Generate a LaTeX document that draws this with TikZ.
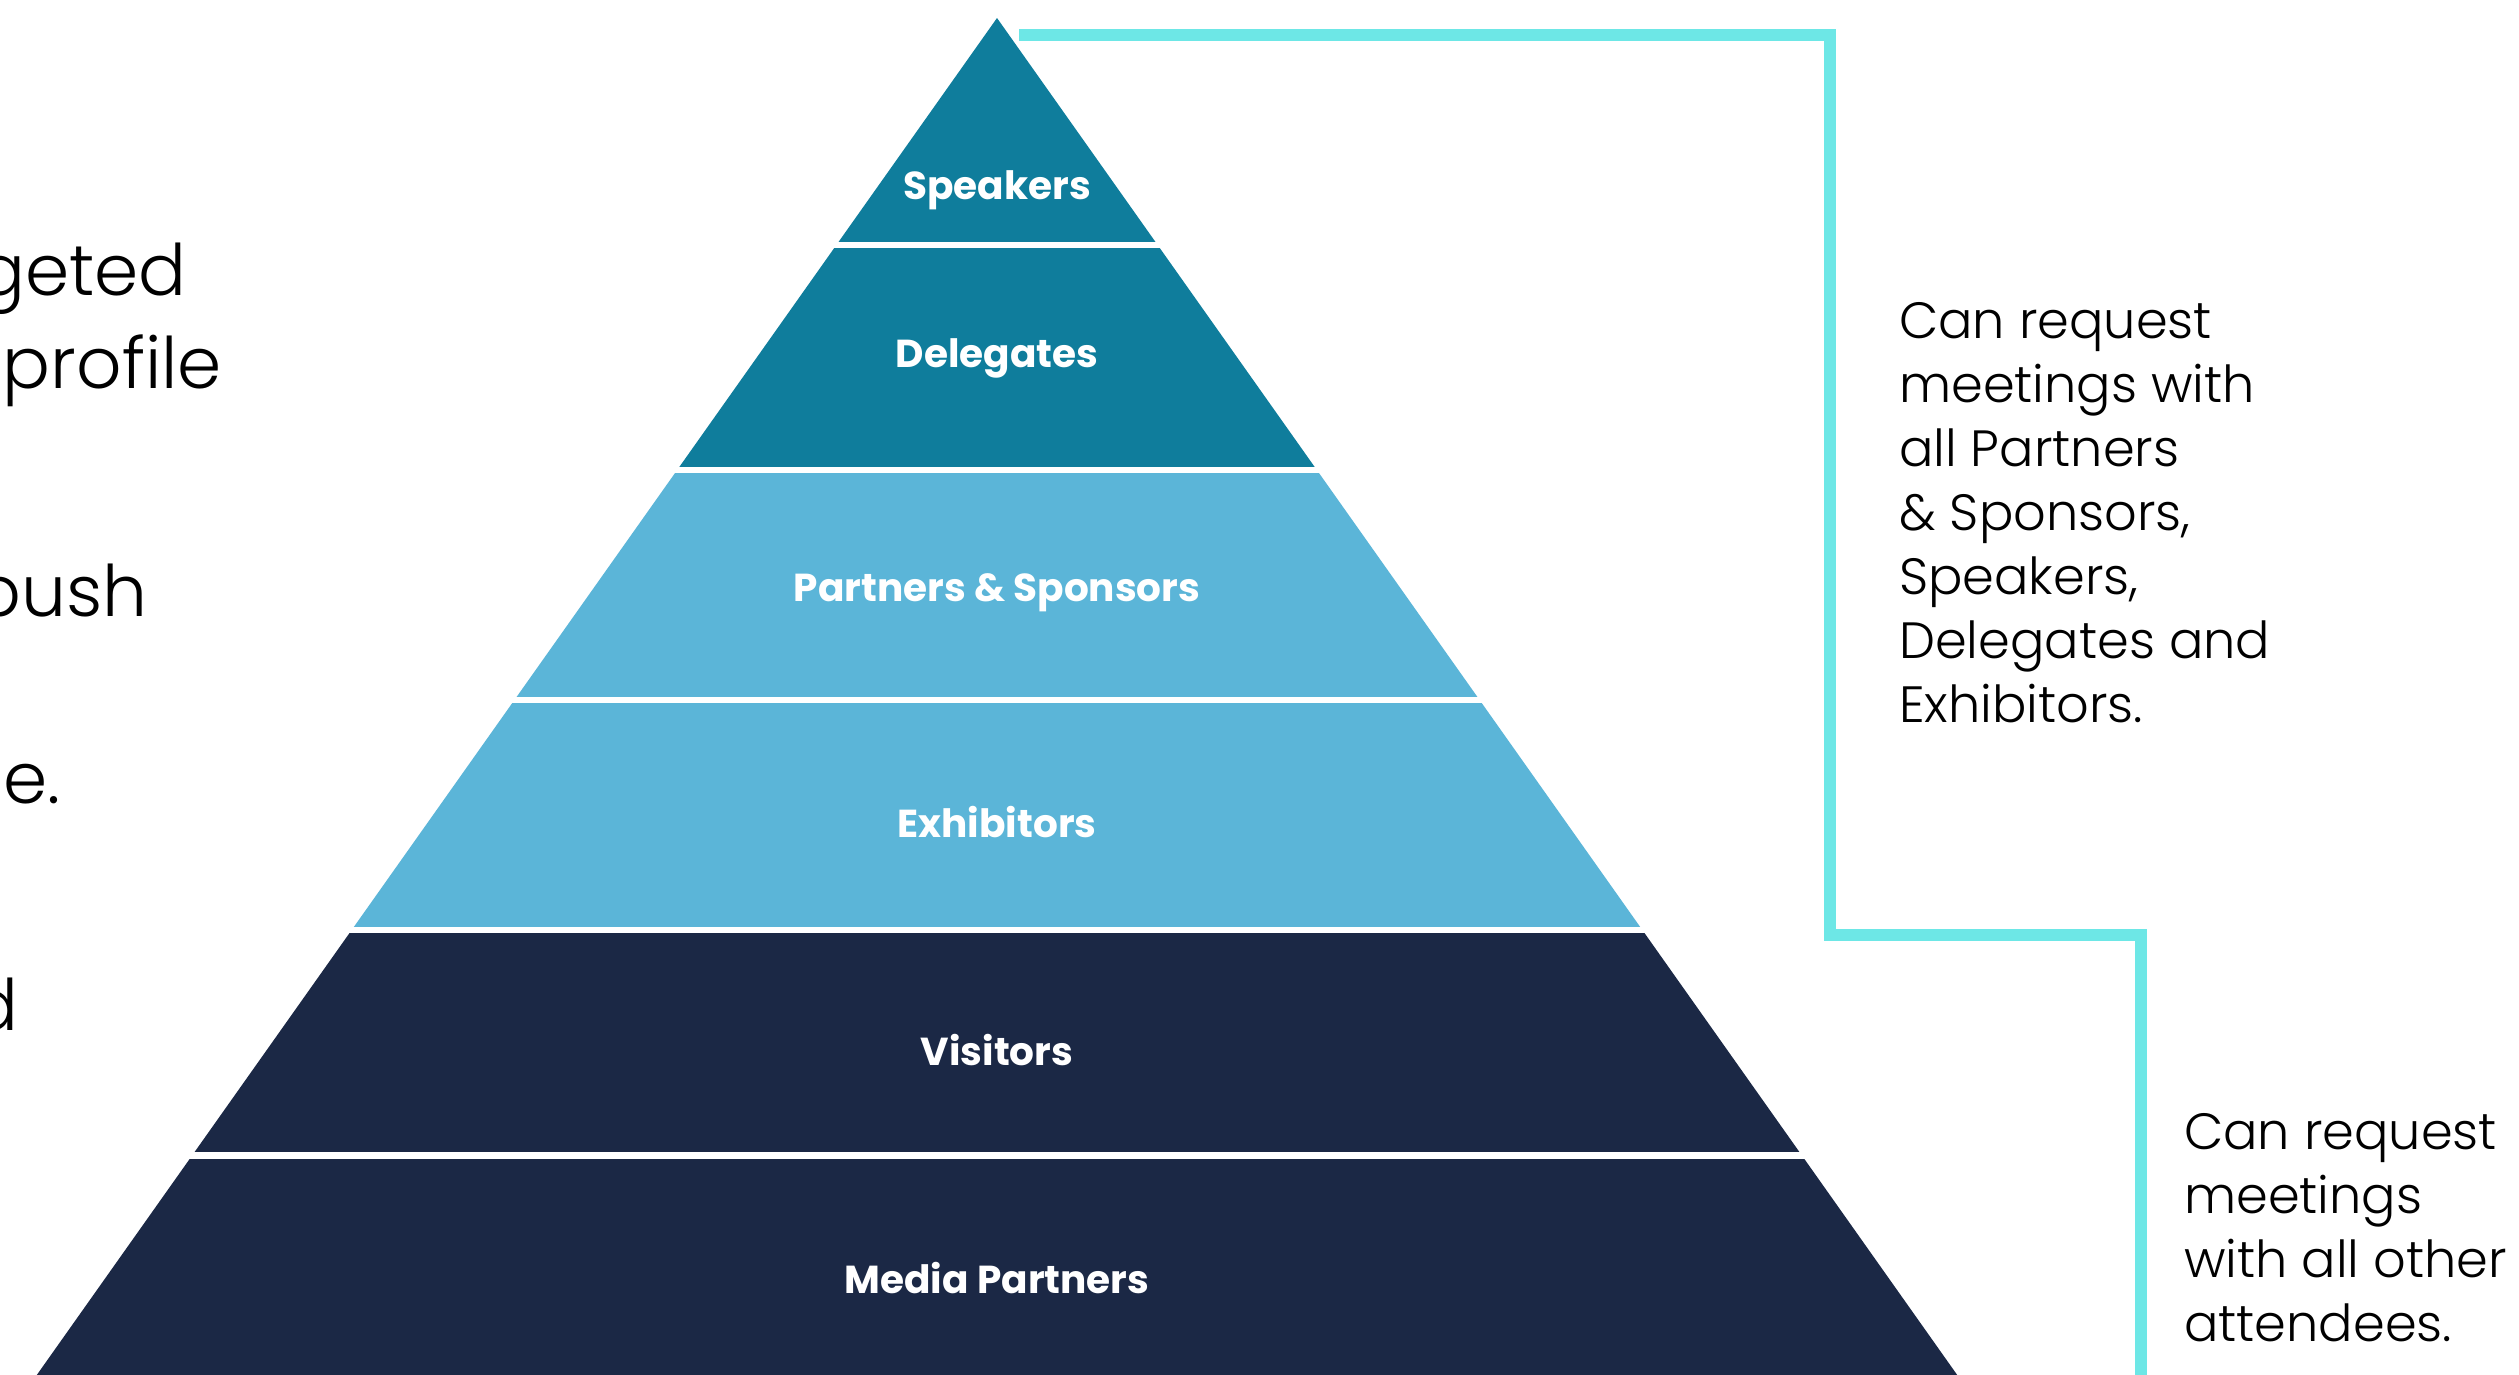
\documentclass[tikz,border=0pt]{standalone}
\usepackage{fontspec}
\setmainfont{Poppins}
\IfFontExistsTF{Poppins Light}{\newfontfamily\plight{Poppins Light}}{\newfontfamily\plight{Poppins}}
\definecolor{pyrTeal}{HTML}{0F7D9C}
\definecolor{pyrLight}{HTML}{5BB5D8}
\definecolor{pyrNavy}{HTML}{1B2845}
\definecolor{bracketCyan}{HTML}{6DE7E6}
\tikzset{
  bandlabel/.style={text=white, font=\fontsize{39}{47}\selectfont\bfseries, inner sep=0pt, anchor=base},
  sidetext/.style={text=black, font=\plight\fontsize{51}{64}\selectfont, align=left, inner sep=0pt, anchor=base west},
  lefttext/.style={text=black, font=\plight\fontsize{71}{92}\selectfont, inner sep=0pt, anchor=base east},
  bracket/.style={draw=bracketCyan, line width=12pt, line join=miter, line cap=butt}
}
\begin{document}
\begin{tikzpicture}[x=1pt,y=-1pt]
\useasboundingbox (0,0) rectangle (2519,1374);
\clip (0,0) rectangle (2519,1374);
\fill[white] (0,0) rectangle (2519,1374);
% pyramid geometry
\coordinate (apex) at (997,18);
\coordinate (baseL) at (19.1,1400);
\coordinate (baseR) at (1974.9,1400);
\begin{scope}
  \clip (apex) -- (baseL) -- (baseR) -- cycle;
  \fill[pyrTeal]  (0,0)    rectangle (2519,242);
  \fill[pyrTeal]  (0,248)  rectangle (2519,467);
  \fill[pyrLight] (0,473)  rectangle (2519,697);
  \fill[pyrLight] (0,703)  rectangle (2519,927);
  \fill[pyrNavy]  (0,933)  rectangle (2519,1152);
  \fill[pyrNavy]  (0,1159) rectangle (2519,1400);
\end{scope}
% band labels
\node[bandlabel] (speakers)   at (997,199)  {Speakers};
\node[bandlabel] (delegates)  at (997,367)  {Delegates};
\node[bandlabel] (partners)   at (997,601)  {Partners \& Sponsors};
\node[bandlabel] (exhibitors) at (997,837)  {Exhibitors};
\node[bandlabel] (visitors)   at (997,1065) {Visitors};
\node[bandlabel] (media)      at (997,1293) {Media Partners};
% bracket
\coordinate (bracketStart) at (1019,35);
\coordinate (bracketEnd) at (2141,1380);
\draw[bracket] (bracketStart) -- (1830,35) -- (1830,935) -- (2141,935) -- (bracketEnd);
% side texts (anchored at the baseline of their last line)
\node[sidetext] (upperNote) at (1899,722) {Can request\\meetings with\\all Partners\\\& Sponsors,\\Speakers,\\Delegates and\\Exhibitors.};
\node[sidetext] (lowerNote) at (2184,1341) {Can request\\meetings\\with all other\\attendees.};
% cut-off left text
\node[lefttext] (leftA) at (187,295) {geted};
\node[lefttext] (leftB) at (222,388) {-profile};
\node[lefttext] (leftC) at (148,616) {push};
\node[lefttext] (leftD) at (61,803) {e.};
\node[lefttext] (leftE) at (19,1030) {d};
\end{tikzpicture}
\end{document}
